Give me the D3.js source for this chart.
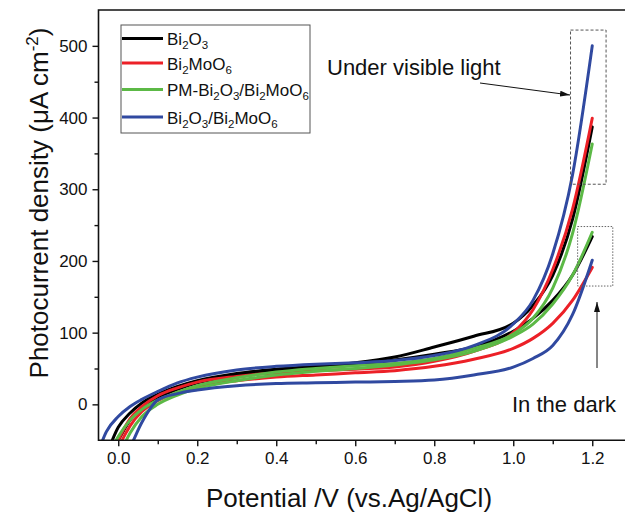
<!DOCTYPE html>
<html>
<head>
<meta charset="utf-8">
<script src="https://d3js.org/d3.v7.min.js"></script>
<style>
  body { margin: 0; background: #fff; }
  text { font-family: "Liberation Sans", Arial, sans-serif; fill: #111; }
</style>
</head>
<body>
<script>
// potential (V vs Ag/AgCl) shared by all curves
var potential = [-0.05, -0.03, 0, 0.03, 0.06, 0.1, 0.15, 0.2, 0.3, 0.4, 0.5, 0.6, 0.7, 0.8, 0.9, 1.0, 1.05, 1.1, 1.15, 1.2];

// photocurrent density (uA cm-2), under visible light
var bi2o3Light   = [-95, -70, -32, -12, 2, 14, 25, 33, 43, 49, 53, 58, 66, 80, 95, 113, 138, 180, 258, 387];
var bi2moo6Light = [-120, -90, -50, -20, -3, 12, 23, 31, 39, 44, 47, 49, 52, 60, 74, 100, 132, 188, 272, 399];
var pmLight      = [-110, -78, -45, -22, -7, 6, 17, 26, 37, 45, 50, 54, 57, 64, 78, 98, 120, 162, 238, 363];
var compLight    = [-65, -38, -17, -3, 7, 18, 30, 38, 48, 53, 56, 58, 61, 68, 82, 112, 145, 210, 320, 500];

// in the dark
var bi2o3Dark   = [-110, -80, -50, -22, -5, 9, 21, 30, 41, 47, 52, 56, 62, 70, 80, 102, 120, 145, 180, 234];
var bi2moo6Dark = [-140, -110, -62, -30, -10, 5, 16, 24, 33, 38, 41, 44, 47, 53, 63, 78, 92, 113, 145, 191];
var pmDark      = [-150, -120, -75, -40, -17, 0, 13, 22, 33, 41, 46, 50, 55, 62, 74, 95, 112, 140, 180, 240];
var compDark    = [-160, -130, -90, -60, -25, 6, 15, 20, 26, 29, 30, 31, 32, 34, 41, 52, 64, 82, 125, 201];

var seriesNames  = ["Bi2O3", "Bi2MoO6", "PM-Bi2O3/Bi2MoO6", "Bi2O3/Bi2MoO6"];
var seriesColors = ["#000000", "#ec2027", "#5cb946", "#3049a0"];
var lightSets = [bi2o3Light, bi2moo6Light, pmLight, compLight];
var darkSets  = [bi2o3Dark, bi2moo6Dark, pmDark, compDark];

var xMajor = [0, 0.2, 0.4, 0.6, 0.8, 1.0, 1.2];
var xMinor = [0.1, 0.3, 0.5, 0.7, 0.9, 1.1];
var yMajor = [0, 100, 200, 300, 400, 500];
var yMinor = [50, 150, 250, 350, 450];

var width = 625, height = 515;
var plotLeft = 98.5, plotTop = 10, plotBottom = 440.2;

var x = d3.scaleLinear().domain([-0.05, 1.3]).range([plotLeft, plotLeft + 1.35 * 395]);
var y = d3.scaleLinear().domain([-50, 550]).range([plotBottom, plotTop]);

var svg = d3.select("body").append("svg")
    .attr("width", width)
    .attr("height", height);

var defs = svg.append("defs");
defs.append("clipPath").attr("id", "plot")
  .append("rect")
    .attr("x", plotLeft).attr("y", plotTop)
    .attr("width", width - plotLeft).attr("height", plotBottom - plotTop);

// curves
var line = d3.line()
    .x(function(d) { return x(d[0]); })
    .y(function(d) { return y(d[1]); })
    .curve(d3.curveMonotoneX);

var curves = svg.append("g").attr("clip-path", "url(#plot)");
seriesNames.forEach(function(name, i) {
    [darkSets[i], lightSets[i]].forEach(function(vals) {
        curves.append("path")
            .datum(potential.map(function(v, k) { return [v, vals[k]]; }))
            .attr("d", line)
            .style("fill", "none")
            .style("stroke", seriesColors[i])
            .style("stroke-width", 3)
            .style("stroke-linecap", "round");
    });
});

// axes
svg.append("g")
    .attr("transform", "translate(0," + plotBottom + ")")
    .call(d3.axisBottom(x).tickValues(xMajor).tickSize(6).tickPadding(6)
        .tickFormat(d3.format(".1f")));
svg.append("g")
    .attr("transform", "translate(0," + plotBottom + ")")
    .call(d3.axisBottom(x).tickValues(xMinor).tickSize(4).tickFormat(""));

svg.append("g")
    .attr("transform", "translate(" + plotLeft + ",0)")
    .call(d3.axisLeft(y).tickValues(yMajor).tickSize(6).tickPadding(5));
svg.append("g")
    .attr("transform", "translate(" + plotLeft + ",0)")
    .call(d3.axisLeft(y).tickValues(yMinor).tickSize(4).tickFormat(""));

svg.selectAll(".domain").remove();
svg.selectAll(".tick line").style("stroke", "#111").style("stroke-width", 1.4);
svg.selectAll(".tick text")
    .style("font-family", "'Liberation Sans', Arial, sans-serif")
    .style("font-size", "17px")
    .style("fill", "#111");

// frame
svg.append("path")
    .attr("d", "M" + width + "," + plotTop + "H" + plotLeft + "V" + plotBottom + "H" + width)
    .style("fill", "none")
    .style("stroke", "#111")
    .style("stroke-width", 1.6);

// axis titles
svg.append("text")
    .attr("x", 349).attr("y", 507)
    .attr("text-anchor", "middle")
    .style("font-size", "26px")
    .text("Potential /V (vs.Ag/AgCl)");

var yt = svg.append("text")
    .attr("transform", "translate(48,203) rotate(-90)")
    .attr("text-anchor", "middle")
    .style("font-size", "26px");
yt.append("tspan").text("Photocurrent density (μA cm");
yt.append("tspan").attr("dy", -10).style("font-size", "17px").text("-2");
yt.append("tspan").attr("dy", 10).text(")");

// legend
var legend = svg.append("g");
legend.append("rect")
    .attr("x", 121).attr("y", 25).attr("width", 189).attr("height", 108)
    .style("fill", "#fff").style("stroke", "#555").style("stroke-width", 1);

var legendY = [38.5, 63, 89.5, 117];
function chem(t, parts) {
    parts.forEach(function(p) {
        if (p[1]) t.append("tspan").attr("dy", 4).style("font-size", "11.5px").text(p[0]);
        else t.append("tspan").attr("dy", p[2] ? -4 : 0).text(p[0]);
    });
}
var legendParts = [
    [["Bi"], ["2", 1], ["O", 0, 1], ["3", 1]],
    [["Bi"], ["2", 1], ["MoO", 0, 1], ["6", 1]],
    [["PM-Bi"], ["2", 1], ["O", 0, 1], ["3", 1], ["/Bi", 0, 1], ["2", 1], ["MoO", 0, 1], ["6", 1]],
    [["Bi"], ["2", 1], ["O", 0, 1], ["3", 1], ["/Bi", 0, 1], ["2", 1], ["MoO", 0, 1], ["6", 1]]
];
seriesNames.forEach(function(name, i) {
    legend.append("line")
        .attr("x1", 122).attr("x2", 163)
        .attr("y1", legendY[i]).attr("y2", legendY[i])
        .style("stroke", seriesColors[i]).style("stroke-width", 3);
    var t = legend.append("text")
        .attr("x", 167).attr("y", legendY[i] + 6.5)
        .style("font-size", "17px");
    chem(t, legendParts[i]);
});

// annotations
defs.append("marker")
    .attr("id", "arrow").attr("viewBox", "0 0 10 6")
    .attr("refX", 10).attr("refY", 3)
    .attr("markerWidth", 10).attr("markerHeight", 6)
    .attr("markerUnits", "userSpaceOnUse")
    .attr("orient", "auto")
  .append("path").attr("d", "M0,0L10,3L0,6Z").style("fill", "#111");

svg.append("rect")
    .attr("x", x(1.145)).attr("y", y(522))
    .attr("width", x(1.235) - x(1.145)).attr("height", y(307) - y(522))
    .style("fill", "none").style("stroke", "#555")
    .style("stroke-width", 1).style("stroke-dasharray", "3,2");
svg.append("rect")
    .attr("x", x(1.163)).attr("y", y(248))
    .attr("width", x(1.252) - x(1.163)).attr("height", y(165) - y(248))
    .style("fill", "none").style("stroke", "#666")
    .style("stroke-width", 1).style("stroke-dasharray", "1.5,1.5");

svg.append("text")
    .attr("x", 327).attr("y", 75)
    .style("font-size", "22px")
    .text("Under visible light");
svg.append("line")
    .attr("x1", 480).attr("y1", 83).attr("x2", 570).attr("y2", 95)
    .style("stroke", "#111").style("stroke-width", 1)
    .attr("marker-end", "url(#arrow)");

svg.append("text")
    .attr("x", 512).attr("y", 412)
    .style("font-size", "22px")
    .text("In the dark");
svg.append("line")
    .attr("x1", 597).attr("y1", 368).attr("x2", 597).attr("y2", 302)
    .style("stroke", "#111").style("stroke-width", 1)
    .attr("marker-end", "url(#arrow)");
</script>
</body>
</html>
